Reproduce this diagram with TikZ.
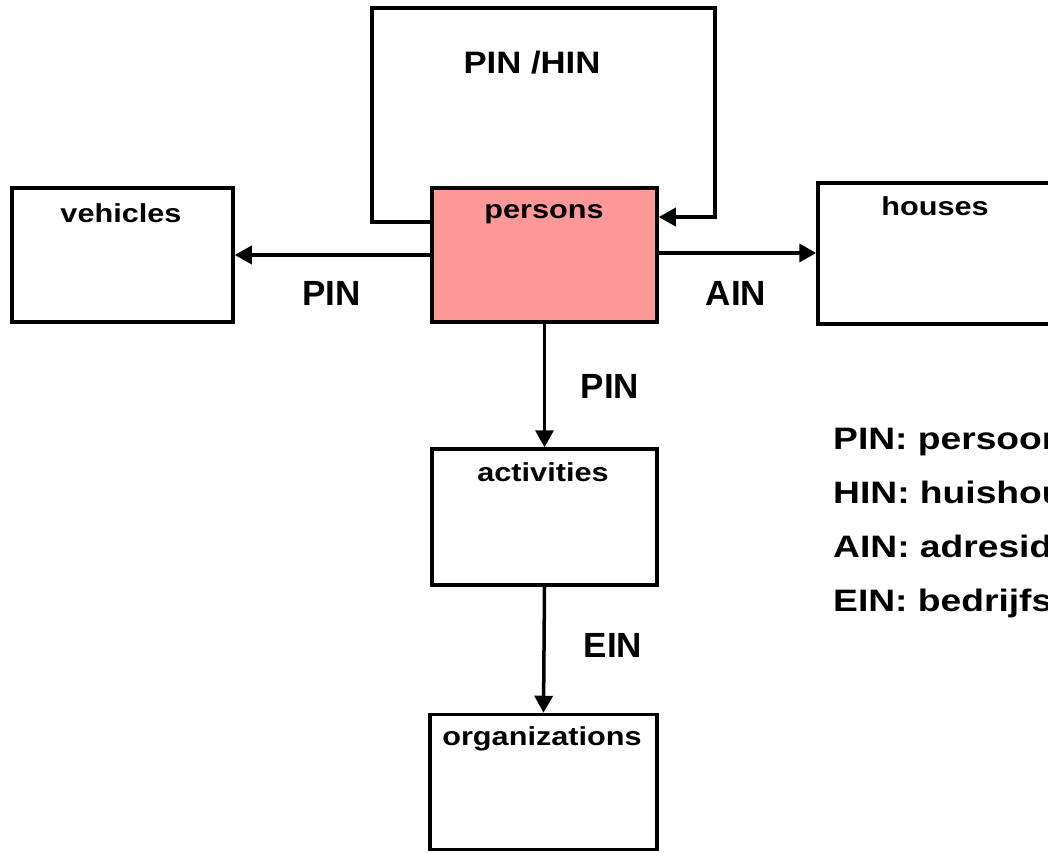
\documentclass[tikz,border=0pt]{standalone}
\usepackage{fontspec}
\setmainfont{Liberation Sans}
\newfontfamily\widefont{Liberation Sans}[FakeStretch=1.18]
\newfontfamily\midfont{Liberation Sans}[FakeStretch=1.12]
\newfontfamily\legfont{Liberation Sans}[FakeStretch=1.2]
\usetikzlibrary{arrows.meta}
\definecolor{personfill}{RGB}{255,153,153}
\tikzset{
  box/.style={draw=black, line width=3.5pt, fill=white, rectangle, inner sep=0pt},
  boxlabel/.style={anchor=base, inner sep=0pt, font=\widefont\bfseries\fontsize{26}{26}\selectfont},
  edgelabel/.style={anchor=base, inner sep=0pt, font=\bfseries\fontsize{35}{35}\selectfont},
  looplabel/.style={anchor=base, inner sep=0pt, font=\midfont\bfseries\fontsize{31}{31}\selectfont},
  legend/.style={anchor=base west, inner sep=0pt, font=\legfont\bfseries\fontsize{31}{31}\selectfont},
  conn/.style={line width=3.5pt, -{Triangle[length=17pt,width=18pt]}},
}
\begin{document}
\begin{tikzpicture}[x=1pt,y=-1pt]
\path[use as bounding box, fill=white] (0,0) rectangle (1048,853);
\clip (0,0) rectangle (1048,853);
% boxes
\node[box, minimum width=221pt, minimum height=134pt] (vehicles) at (122.5,255) {};
\node[box, fill=personfill, minimum width=225pt, minimum height=134pt] (persons) at (544.5,255) {};
\node[box, minimum width=250pt, minimum height=141pt] (houses) at (943,253.5) {};
\node[box, minimum width=225pt, minimum height=136pt] (activities) at (544.5,517) {};
\node[box, minimum width=227pt, minimum height=135pt] (organizations) at (543.5,782) {};
% box labels
\node[boxlabel] (vehiclesL) at (121,222) {vehicles};
\node[boxlabel] (personsL) at (544,218) {persons};
\node[boxlabel] (housesL) at (935,215) {houses};
\node[boxlabel] (activitiesL) at (543,481) {activities};
\node[boxlabel] (organizationsL) at (542,745) {organizations};
% loop
\coordinate (loopTL) at (372,8);
\coordinate (loopTR) at (715,8);
\draw[conn] ([yshift=33pt]persons.west) -| (loopTL) -- (loopTR) |- ([yshift=38pt]persons.east);
\node[looplabel] (loopL) at (532,74) {PIN /HIN};
% connectors
\draw[conn] (persons.west) -- (persons.west -| vehicles.east);
\draw[conn] ([yshift=2pt]persons.east) -- ([yshift=2pt]persons.east -| houses.west);
\draw[conn] (persons.south) -- (activities.north);
\draw[conn] (activities.south) -- (organizations.north);
% edge labels
\node[edgelabel] (pinV) at (331.5,305) {PIN};
\node[edgelabel] (ainH) at (736,305) {AIN};
\node[edgelabel] (pinA) at (610,398) {PIN};
\node[edgelabel] (einO) at (613,657) {EIN};
% legend
\node[legend] (leg1) at (833,449) {PIN: persoon};
\node[legend] (leg2) at (833,503) {HIN: huishou};
\node[legend] (leg3) at (833,557) {AIN: adresid};
\node[legend] (leg4) at (833,611) {EIN: bedrijfsi};
\end{tikzpicture}
\end{document}
